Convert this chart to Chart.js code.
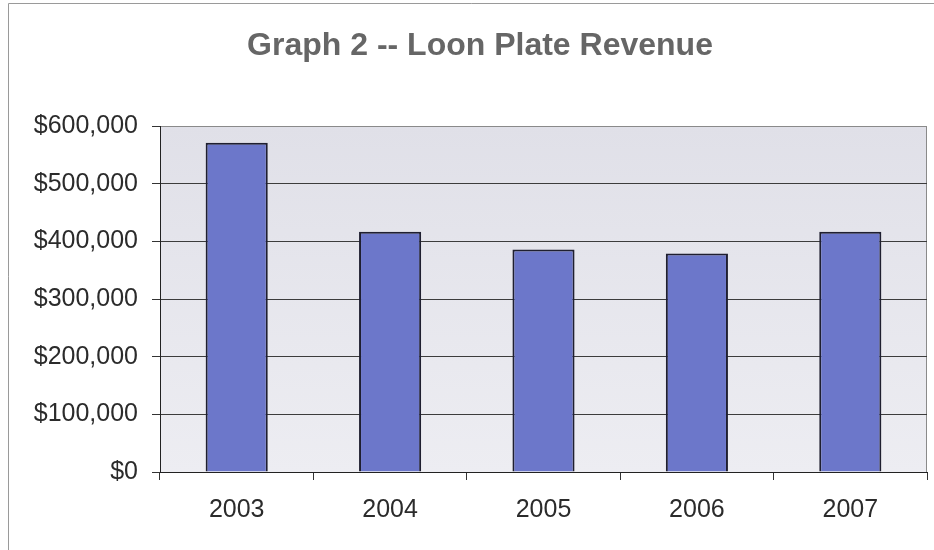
<!DOCTYPE html>
<html>
<head>
<meta charset="utf-8">
<title>Loon Plate Revenue</title>
<script src="https://cdn.jsdelivr.net/npm/chart.js@4"></script>
<style>
    html, body { margin: 0; padding: 0; background: #fff; }
    #wrap { position: relative; width: 934px; height: 550px; }
</style>
</head>
<body>
<div id="wrap"><canvas id="revenueChart" width="934" height="550"></canvas></div>
<script>
const years = ["2003", "2004", "2005", "2006", "2007"];
const revenue = [571000, 416500, 386000, 379000, 416500];
const yTicks = [0, 100000, 200000, 300000, 400000, 500000, 600000];

const titleText = "Graph 2 -- Loon Plate Revenue";
const fontFamily = "'Liberation Sans', Arial, sans-serif";

// plot background, right edge and the outer frame line
const framePlugin = {
    id: "frame",
    beforeDraw(chart) {
        const { ctx, chartArea: a } = chart;
        ctx.save();
        ctx.fillStyle = "#fff";
        ctx.fillRect(0, 0, chart.width, chart.height);

        ctx.strokeStyle = "#9a9a9a";
        ctx.lineWidth = 1;
        ctx.beginPath();
        ctx.moveTo(8.5, chart.height);
        ctx.lineTo(8.5, 3.5);
        ctx.lineTo(chart.width, 3.5);
        ctx.stroke();

        const grad = ctx.createLinearGradient(0, a.top, 0, a.bottom);
        grad.addColorStop(0, "#e0e0e8");
        grad.addColorStop(1, "#ededf2");
        ctx.fillStyle = grad;
        ctx.fillRect(a.left, a.top, a.right - a.left, a.bottom - a.top);

        ctx.strokeStyle = "#8a8a8a";
        ctx.beginPath();
        ctx.moveTo(a.right - 0.5, a.top);
        ctx.lineTo(a.right - 0.5, a.bottom);
        ctx.stroke();
        ctx.restore();
    },
    // chart heading, sits a little right of the canvas centre
    afterDraw(chart) {
        const { ctx } = chart;
        ctx.save();
        ctx.fillStyle = "#666666";
        ctx.font = "bold 32px " + fontFamily;
        ctx.textAlign = "center";
        ctx.textBaseline = "alphabetic";
        ctx.fillText(titleText, 480, 55);
        ctx.restore();
    }
};

document.addEventListener("DOMContentLoaded", function () {
    const ctx = document.getElementById("revenueChart").getContext("2d");
    new Chart(ctx, {
        type: "bar",
        data: {
            labels: years,
            datasets: [{
                data: revenue,
                backgroundColor: "#6c77ca",
                borderColor: "#1f1f30",
                borderWidth: 2,
                categoryPercentage: 1,
                barPercentage: 0.405
            }]
        },
        options: {
            responsive: false,
            animation: false,
            layout: { padding: { left: 0, right: 7, top: 126, bottom: 0 } },
            plugins: {
                legend: { display: false },
                tooltip: { enabled: false },
                title: { display: false }
            },
            scales: {
                x: {
                    afterFit: s => { s.height = 78; },
                    grid: {
                        offset: true,
                        drawOnChartArea: false,
                        drawTicks: true,
                        tickLength: 8,
                        color: "#333"
                    },
                    border: { color: "#222", width: 1 },
                    ticks: {
                        color: "#2b2b2b",
                        padding: 15,
                        font: { family: fontFamily, size: 25 }
                    }
                },
                y: {
                    min: 0,
                    max: 600000,
                    afterFit: s => { s.width = 160; },
                    afterBuildTicks: s => { s.ticks = yTicks.map(v => ({ value: v })); },
                    grid: {
                        color: ctx => ctx.tick && ctx.tick.value === 600000 ? "#8a8a8a" : "#3c3c3c",
                        lineWidth: 1,
                        tickLength: 8,
                        tickColor: "#333"
                    },
                    border: { color: "#222", width: 1 },
                    ticks: {
                        color: "#2b2b2b",
                        padding: 14,
                        font: { family: fontFamily, size: 25 },
                        callback: v => "$" + Number(v).toLocaleString("en-US")
                    }
                }
            }
        },
        plugins: [framePlugin]
    });
});
</script>
</body>
</html>
